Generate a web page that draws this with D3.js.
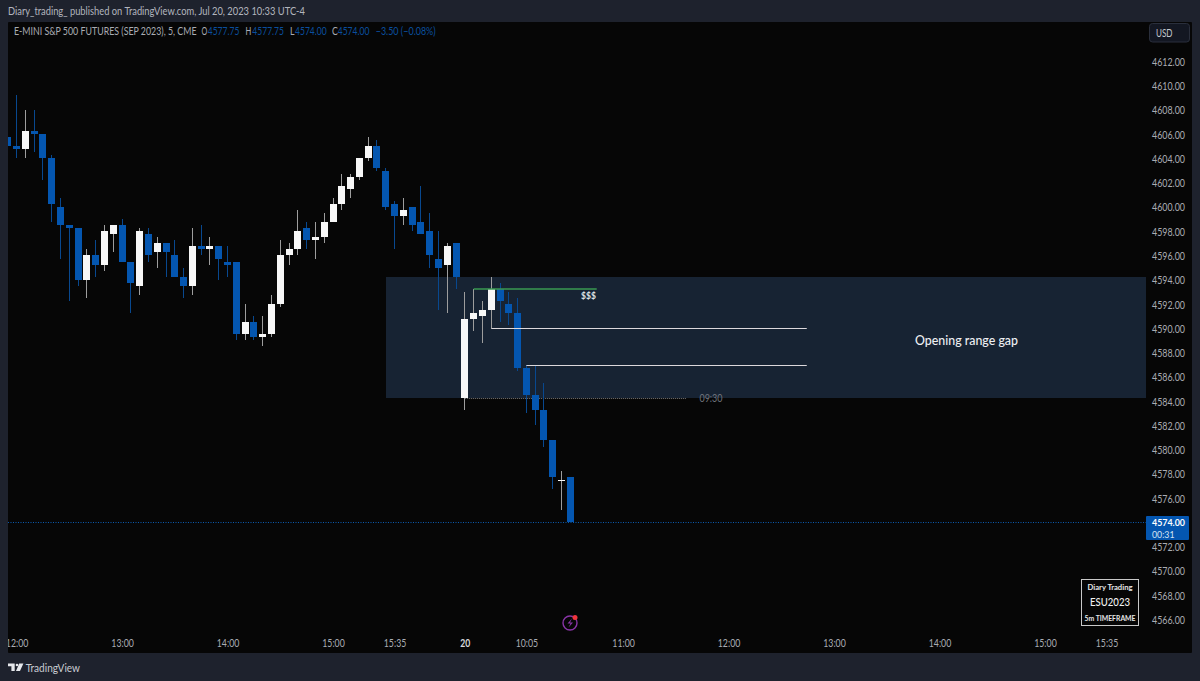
<!DOCTYPE html>
<html><head><meta charset="utf-8">
<script src="https://cdn.jsdelivr.net/npm/d3@7"></script>
<style>
html,body{margin:0;padding:0;background:#1e222d;overflow:hidden}
svg{display:block}
text{font-family:Lato,"Open Sans",sans-serif}
.tick line,.domain{display:none}
</style></head><body><svg id="c" width="1200" height="681"></svg>
<script>
const opens=[4605.75,4605,4604.75,4606.25,4606,4604,4600,4598.5,4598.25,4594,4596,4595.25,4597.75,4598.5,4595.5,4593.5,4597.75,4596.25,4597,4596,4594.25,4593.5,4596.75,4596.5,4596.75,4595.5,4595.5,4589.5,4590.5,4589.25,4589.5,4592,4596,4596.5,4598.25,4597.25,4597.5,4598.75,4600.25,4601.5,4602.5,4604,4605,4603,4600.25,4599.25,4600,4598.75,4598,4595.75,4595.25,4597,4584.25,4590.75,4591,4591.5,4593.25,4592,4591.25,4586.75,4584.5,4583.25,4580.75,4577.5,4577.75];
const highs=[4606.5,4609.25,4608,4608,4606,4604.25,4600.75,4598.5,4598.25,4596.5,4597.25,4598.5,4598.5,4599,4595.5,4598.25,4598.25,4597.5,4597,4597.25,4595,4598.25,4598.5,4597.5,4596.75,4596.75,4595.5,4592,4591,4591,4592.75,4597.25,4597,4599.75,4598.75,4598.75,4599.5,4600.75,4602.75,4602.75,4604,4605.75,4605.5,4603.25,4600.5,4600.75,4600,4601.75,4599.5,4598,4597,4597,4593,4593.25,4592.25,4594.25,4593.75,4593,4592.5,4587,4587,4585.5,4580.75,4578.25,4577.75];
const lows=[4603.25,4604,4604,4604.5,4602.25,4598.75,4595.75,4592.25,4593.5,4592.5,4594.25,4594.75,4596.25,4595.5,4591.25,4592.75,4595.5,4595,4594.25,4594.25,4592.5,4592.75,4596,4595.25,4594,4594.25,4589,4589,4589,4588.5,4589.25,4591.75,4595.25,4596,4596.5,4595.75,4597,4598.75,4599.75,4600.75,4602.25,4603.75,4603,4599.75,4596.5,4598.5,4598,4597.75,4595,4591.5,4591.25,4593.25,4583.25,4589.75,4588.75,4590,4590.5,4590.25,4586.5,4583,4582,4580.25,4576.75,4575,4574];
const closes=[4605,4604.75,4606.25,4606,4604,4600.25,4598.5,4598.25,4594,4596,4595.25,4598,4598.5,4595.5,4593.75,4598,4596,4597,4596.25,4594.25,4593.5,4596.75,4596.5,4596.75,4595.75,4595.25,4589.5,4590.5,4589.25,4589.5,4592,4596,4596.5,4598,4597.25,4597.5,4598.75,4600.25,4601.75,4602.5,4604,4605,4603.25,4600,4599.25,4599.75,4598.5,4597.75,4596,4595,4596.75,4594.25,4590.75,4591.25,4591.5,4593.25,4592.25,4591.25,4586.75,4584.5,4583.25,4580.75,4577.75,4577.5,4574];
const priceTicks=d3.range(4566,4613,2);
const timeBars=[1,13,25,37,44,52,59,70,82,94,106,118,125];
const timeLabels=["12:00","13:00","14:00","15:00","15:35","20","10:05","11:00","12:00","13:00","14:00","15:00","15:35"];
const gapTop=4594.25, gapBottom=4584.25, gapStartBar=43;
const sssPrice=4593.25, sssBars=[53,67];
const level1=4590, level1Bar=55, level2=4587, level2Bar=59, levelEndBar=90.9;
const openPrice=4584.25, openBars=[52,77.2], openLabelBar=80;
const lastPrice=4574;
const legendValues=[["O","4577.75",201.5,207.7],["H","4577.75",245.5,252.3],["L","4574.00",290,295],["C","4574.00",332,337.7]];

const W=1200,H=681,BLUE="#0456b0",BLUEW="#08488f",WHITE="#f7f7f7",WHITEW="#9d9d9d",TXT="#a9acb3";
const PL=8,PR=1146,PT=22,PB=653,AR=1192;
const fit=(sel,w)=>sel.attr("textLength",w).attr("lengthAdjust","spacingAndGlyphs");
const x=d3.scaleLinear().domain([0,125]).range([7.8,1106.5]);
const y=d3.scaleLinear().domain([4566,4612]).range([619.4,61.4]);
const svg=d3.select("#c");
svg.append("rect").attr("width",W).attr("height",H).attr("fill","#1e222d");
svg.append("rect").attr("x",PL).attr("y",PT).attr("width",AR-PL).attr("height",PB-PT).attr("rx",1).attr("fill","#060606");
const defs=svg.append("defs");
defs.append("clipPath").attr("id","pc").append("rect").attr("x",PL).attr("y",PT).attr("width",PR-PL).attr("height",PB-PT);
const plot=svg.append("g").attr("clip-path","url(#pc)");

plot.append("rect").attr("x",Math.round(x(gapStartBar))).attr("y",Math.round(y(gapTop))).attr("width",PR-Math.round(x(gapStartBar))).attr("height",Math.round(y(gapBottom))-Math.round(y(gapTop))).attr("fill","#172333");
plot.append("line").attr("x1",PL).attr("x2",PR).attr("y1",Math.round(y(lastPrice))+.5).attr("y2",Math.round(y(lastPrice))+.5).attr("stroke","#0a5ab0").attr("stroke-dasharray","1 1.5");
plot.append("line").attr("x1",x(openBars[0])).attr("x2",x(openBars[1])).attr("y1",Math.round(y(openPrice))+.5).attr("y2",Math.round(y(openPrice))+.5).attr("stroke","#777").attr("stroke-dasharray","1 1");
fit(plot.append("text").attr("x",x(openLabelBar)).attr("y",y(openPrice)+3.5).attr("text-anchor","middle").attr("font-size",10.5).attr("fill","#6f737b").text("09:30"),23);
const idx=d3.range(opens.length);
const cg=plot.append("g");
const bw=7;
cg.selectAll("rect.w").data(idx).join("rect").attr("class","w")
 .attr("x",i=>Math.round(x(i)-.5)).attr("width",1)
 .attr("y",i=>Math.round(y(highs[i]))).attr("height",i=>Math.max(1,Math.round(y(lows[i]))-Math.round(y(highs[i]))))
 .attr("fill",i=>closes[i]>=opens[i]?WHITEW:BLUEW);
cg.selectAll("rect.b").data(idx).join("rect").attr("class","b")
 .attr("x",i=>Math.round(x(i)-3.5)).attr("width",bw)
 .attr("y",i=>Math.round(y(Math.max(opens[i],closes[i])))).attr("height",i=>Math.max(1,Math.round(y(Math.min(opens[i],closes[i])))-Math.round(y(Math.max(opens[i],closes[i])))))
 .attr("fill",i=>closes[i]>=opens[i]?WHITE:BLUE);
plot.append("line").attr("x1",x(sssBars[0])).attr("x2",x(sssBars[1])).attr("y1",Math.round(y(sssPrice))).attr("y2",Math.round(y(sssPrice))).attr("stroke","#3a9a52").attr("stroke-width",1.4);
plot.append("text").attr("x",588.5).attr("y",y(sssPrice)+10).attr("text-anchor","middle").attr("font-size",8.5).attr("font-weight",700).attr("fill","#dfe1e5").text("$$$");
[[level1,level1Bar],[level2,level2Bar]].forEach(([p,b])=>{
 plot.append("line").attr("x1",x(b)).attr("x2",x(levelEndBar)).attr("y1",Math.round(y(p))+.5).attr("y2",Math.round(y(p))+.5).attr("stroke","#dcd8dc").attr("stroke-width",1);
});
fit(plot.append("text").attr("x",966.5).attr("y",344.5).attr("text-anchor","middle").attr("font-size",13).attr("font-weight",500).attr("fill","#eef0f3").text("Opening range gap"),103);

const ay=svg.append("g").attr("transform",`translate(${PR},.5)`).call(d3.axisRight(y).tickValues(priceTicks).tickFormat(d3.format(".2f")).tickSize(0).tickPadding(6));
ay.selectAll("text").attr("font-size",11).attr("fill",TXT).attr("textLength",33).attr("lengthAdjust","spacingAndGlyphs");
svg.append("defs").append("clipPath").attr("id","tc").append("rect").attr("x",PL).attr("y",PB-20).attr("width",AR-PL).attr("height",20);
const ax=svg.append("g").attr("clip-path","url(#tc)").append("g").attr("transform",`translate(0,${PB-20})`)
 .call(d3.axisBottom(x).tickValues(timeBars).tickFormat((d,i)=>timeLabels[i]).tickSize(0).tickPadding(6));
ax.selectAll("text").attr("font-size",11).attr("fill",(d,i)=>timeLabels[i]==="20"?"#d6d8dc":TXT).attr("font-weight",(d,i)=>timeLabels[i]==="20"?700:400)
 .attr("textLength",(d,i)=>timeLabels[i]==="20"?10:22.5).attr("lengthAdjust","spacingAndGlyphs");

svg.append("rect").attr("x",PR).attr("y",516).attr("width",43).attr("height",24).attr("rx",1).attr("fill","#0456b0");
fit(svg.append("text").attr("x",1152).attr("y",525.5).attr("font-size",10).attr("font-weight",700).attr("fill","#fff").text(d3.format(".2f")(lastPrice)),33);
fit(svg.append("text").attr("x",1152).attr("y",537.5).attr("font-size",10).attr("fill","#d5e3f3").text("00:31"),22.5);
svg.append("rect").attr("x",1149.5).attr("y",23.5).attr("width",40).attr("height",18.5).attr("rx",3).attr("fill","#131722").attr("stroke","#2a2f3c");
fit(svg.append("text").attr("x",1156).attr("y",36.5).attr("font-size",10.5).attr("fill","#c4c7ce").text("USD"),16.5);

fit(svg.append("text").attr("x",8).attr("y",15).attr("font-size",11).attr("fill","#b2b5be").text("Diary_trading_ published on TradingView.com, Jul 20, 2023 10:33 UTC-4"),297);
fit(svg.append("text").attr("x",14).attr("y",35).attr("font-size",10.5).attr("fill","#a9acb3").text("E-MINI S&P 500 FUTURES (SEP 2023), 5, CME"),182.5);
legendValues.forEach(([k,v,px,vx])=>{
 fit(svg.append("text").attr("x",px).attr("y",35).attr("font-size",10.5).attr("fill","#a9acb3").text(k),k==="L"?4.5:5.8);
 fit(svg.append("text").attr("x",vx).attr("y",35).attr("font-size",10.5).attr("fill","#0a4f9e").text(v),31.7);
});
fit(svg.append("text").attr("x",375.7).attr("y",35).attr("font-size",10.5).attr("fill","#0a4f9e").text("\u22123.50 (\u22120.08%)"),60);

svg.append("rect").attr("x",1081.5).attr("y",579.5).attr("width",57).attr("height",46).attr("fill","#060606").attr("stroke","#c9c9c9");
fit(svg.append("text").attr("x",1110).attr("y",590).attr("text-anchor","middle").attr("font-size",8).attr("font-weight",700).attr("fill","#e6e6e6").text("Diary Trading"),45);
fit(svg.append("text").attr("x",1110).attr("y",606).attr("text-anchor","middle").attr("font-size",11).attr("font-weight",500).attr("fill","#f2f2f2").text("ESU2023"),40);
fit(svg.append("text").attr("x",1110).attr("y",621).attr("text-anchor","middle").attr("font-size",7.5).attr("font-weight",700).attr("fill","#e6e6e6").text("5m TIMEFRAME"),51);

svg.append("circle").attr("cx",570).attr("cy",623).attr("r",7).attr("fill","none").attr("stroke","#8a35a8").attr("stroke-width",1.4);
svg.append("path").attr("d","M572 618.5L567.5 623.5H570.5L568.5 627.5L573 622.5H570Z").attr("fill","#8a35a8");
svg.append("circle").attr("cx",575).attr("cy",617.5).attr("r",2.5).attr("fill","#f0343c");

svg.append("path").attr("fill","#e6e8ec").attr("d","M8 663.5H14.7V671H11.4V666.2H8ZM19.2 663.5H23.4L20 671H16Z");
svg.append("circle").attr("cx",17).attr("cy",665).attr("r",1.3).attr("fill","#e6e8ec");
fit(svg.append("text").attr("x",25.7).attr("y",671.5).attr("font-size",11.5).attr("fill","#c9ccd2").text("TradingView"),54.3);
</script></body></html>
